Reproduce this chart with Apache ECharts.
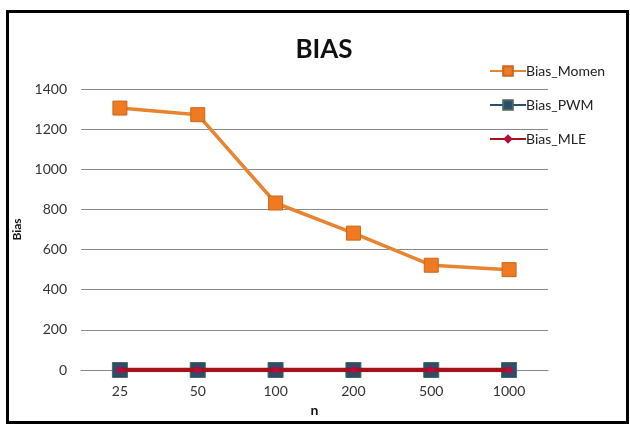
<!DOCTYPE html>
<html><head><meta charset="utf-8">
<script src="https://cdn.jsdelivr.net/npm/echarts@6/dist/echarts.min.js"></script>
<style>html,body{margin:0;padding:0;background:#fff}#c{width:630px;height:425px}</style>
</head><body><div id="c"></div>
<script>
const categories = ['25','50','100','200','500','1000'];
const biasMomen = [1305, 1272, 832, 682, 522, 500];
const biasPWM = [0, 0, 0, 0, 0, 0];
const biasMLE = [0, 0, 0, 0, 0, 0];
const yTicks = [0, 200, 400, 600, 800, 1000, 1200, 1400];

const font = 'Lato, "Open Sans", sans-serif';
const chart = echarts.init(document.getElementById('c'));
chart.setOption({
  backgroundColor: '#fff',
  animation: false,
  graphic: [{
    type: 'rect', left: 5, top: 9, shape: {width: 620, height: 411},
    style: {fill: 'none', stroke: '#000', lineWidth: 3}, z: 100
  }],
  title: {
    text: 'BIAS', left: 319, top: 32, textAlign: 'center',
    textStyle: {fontFamily: font, fontSize: 26, fontWeight: 'bold', color: '#111'}
  },
  legend: {
    orient: 'vertical', left: 484, top: 59, itemGap: 20, itemWidth: 36, itemHeight: 12,
    textStyle: {fontFamily: font, fontSize: 14, color: '#222', padding: [0,0,0,-5]},
    data: ['Bias_Momen','Bias_PWM','Bias_MLE']
  },
  grid: {left: 81, right: 82, top: 89, bottom: 55},
  xAxis: {
    type: 'category', data: categories, boundaryGap: true,
    name: 'n', nameLocation: 'middle', nameGap: 33,
    nameTextStyle: {fontFamily: font, fontSize: 14, fontWeight: 'bold', color: '#111'},
    axisLine: {lineStyle: {color: '#888'}}, axisTick: {show: false},
    axisLabel: {fontFamily: font, fontSize: 14, color: '#333', margin: 14}
  },
  yAxis: {
    type: 'value', min: 0, max: 1400, interval: 200,
    name: 'Bias', nameLocation: 'middle', nameGap: 56, nameRotate: 90,
    nameTextStyle: {fontFamily: font, fontSize: 12, fontWeight: 'bold', color: '#111'},
    axisLine: {show: false}, axisTick: {show: false},
    axisLabel: {fontFamily: font, fontSize: 14, color: '#333', margin: 14,
      formatter: v => yTicks.includes(v) ? String(v) : ''},
    splitLine: {lineStyle: {color: '#8a8a8a', width: 1}}
  },
  series: [
    {name: 'Bias_Momen', type: 'line', data: biasMomen, symbol: 'rect', symbolSize: 14,
      lineStyle: {color: '#E8832F', width: 3.5},
      itemStyle: {color: '#F07A22', borderColor: '#C8661E', borderWidth: 1}, z: 3},
    {name: 'Bias_PWM', type: 'line', data: biasPWM, symbol: 'rect', symbolSize: 15,
      lineStyle: {color: '#2B4D6E', width: 3.5},
      itemStyle: {color: '#2B4D6E', borderColor: '#4a6a5a', borderWidth: 1}, z: 4},
    {name: 'Bias_MLE', type: 'line', data: biasMLE, symbol: 'diamond', symbolSize: 8,
      lineStyle: {color: '#A6121C', width: 4.5},
      itemStyle: {color: '#B0103A', borderColor: '#B0103A'}, z: 5}
  ]
});
</script></body></html>
